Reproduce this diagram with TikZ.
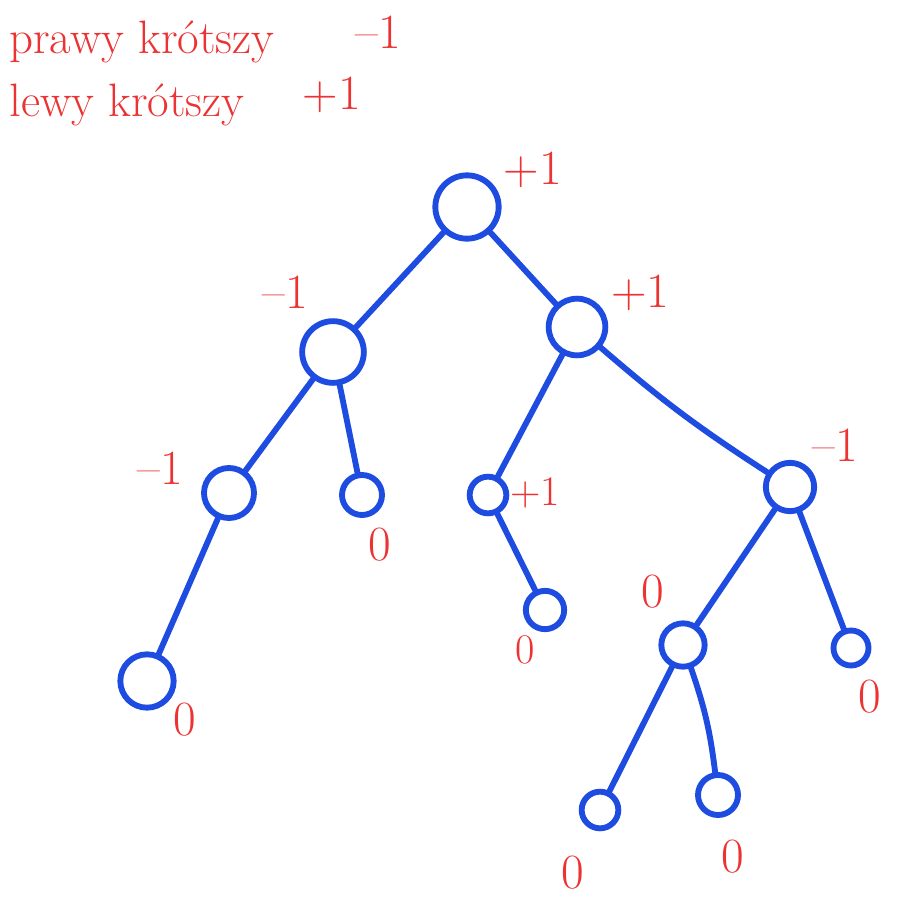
\documentclass[tikz,border=0pt]{standalone}
\usepackage{tikz}
\usetikzlibrary{positioning, calc}
\definecolor{blueink}{RGB}{30,76,225}
\definecolor{redink}{RGB}{236,50,50}
\tikzset{
  knot/.style={circle, draw=blueink, line width=5pt, inner sep=0pt},
  branch/.style={blueink, line width=5pt, line cap=round},
  bal/.style={text=redink, font=\fontsize{42}{46}\selectfont, inner sep=1pt},
  smallbal/.style={bal, font=\fontsize{36}{40}\selectfont}
}
\begin{document}
\begin{tikzpicture}[x=0.03cm, y=-0.03cm]
                \useasboundingbox[fill=white] (0,0) rectangle (901,922);
                \node[bal, anchor=west, font=\fontsize{40}{44}\selectfont] (rowP) at (8,42) {prawy krótszy};
                \node[bal] (balP) at (378,32) {--1};
                \node[bal, anchor=west, font=\fontsize{40}{44}\selectfont] (rowL) at (8,105) {lewy krótszy};
                \node[bal] (balL) at (332,95) {+1};
                \node[knot, minimum size=1.9cm] (r) at (467,207) {};
                \node[knot, minimum size=1.85cm] (a) at (333,352) {};
                \node[knot, minimum size=1.7cm] (b) at (577,327) {};
                \node[knot, minimum size=1.5cm] (c) at (229,493) {};
                \node[knot, minimum size=1.2cm] (d) at (362,495) {};
                \node[knot, minimum size=1.1cm] (e) at (488,495) {};
                \node[knot, minimum size=1.45cm] (f) at (790,487) {};
                \node[knot, minimum size=1.6cm] (g) at (147,681) {};
                \node[knot, minimum size=1.15cm] (h) at (545,610) {};
                \node[knot, minimum size=1.3cm] (i) at (683,645) {};
                \node[knot, minimum size=1.05cm] (j) at (851,648) {};
                \node[knot, minimum size=1.1cm] (k) at (600,810) {};
                \node[knot, minimum size=1.2cm] (l) at (718,795) {};
                \draw[branch] (r) -- (a);
                \draw[branch] (r) -- (b);
                \draw[branch] (a) -- (c);
                \draw[branch] (a) -- (d);
                \draw[branch] (b) -- (e);
                \draw[branch] (b) to[bend right=4] (f);
                \draw[branch] (c) -- (g);
                \draw[branch] (e) -- (h);
                \draw[branch] (f) -- (i);
                \draw[branch] (f) -- (j);
                \draw[branch] (i) -- (k);
                \draw[branch] (i) to[bend left=6] (l);
                \node[bal] (lr) at (533,170) {+1};
                \node[bal] (la) at (285,292) {--1};
                \node[bal] (lb) at (640,293) {+1};
                \node[bal] (lc) at (160,468) {--1};
                \node[bal] (ld) at (380,545) {0};
                \node[smallbal] (le) at (535,493) {+1};
                \node[bal] (lf) at (835,445) {--1};
                \node[bal] (lg) at (185,720) {0};
                \node[smallbal] (lh) at (525,650) {0};
                \node[bal] (li) at (653,592) {0};
                \node[bal] (lj) at (870,697) {0};
                \node[bal] (lk) at (573,873) {0};
                \node[bal] (ll) at (733,857) {0};
\end{tikzpicture}
\end{document}
